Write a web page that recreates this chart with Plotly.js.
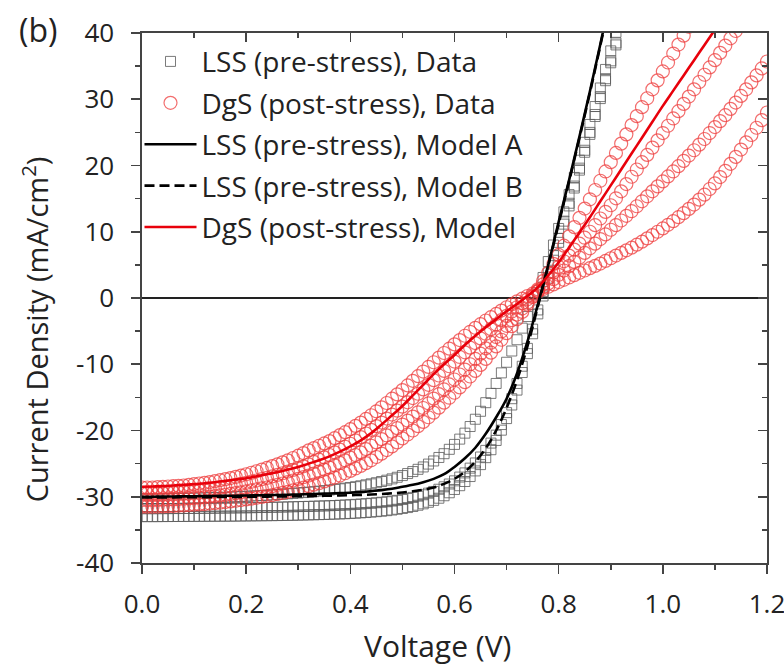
<!DOCTYPE html>
<html>
<head>
<meta charset="utf-8">
<script src="https://cdn.plot.ly/plotly-3.0.1.min.js"></script>
<style>html,body{margin:0;padding:0;background:#fff;overflow:hidden;}#chart{width:784px;height:668px;}</style>
</head>
<body>
<div id="chart"></div>
<script>
// Voltage grid for the measured data (V)
const voltage = [0,0.01,0.02,0.03,0.04,0.05,0.06,0.07,0.08,0.09,0.10,0.11,0.12,0.13,0.14,0.15,0.16,0.17,0.18,0.19,0.20,0.21,0.22,0.23,0.24,0.25,0.26,0.27,0.28,0.29,0.30,0.31,0.32,0.33,0.34,0.35,0.36,0.37,0.38,0.39,0.40,0.41,0.42,0.43,0.44,0.45,0.46,0.47,0.48,0.49,0.50,0.51,0.52,0.53,0.54,0.55,0.56,0.57,0.58,0.59,0.60,0.61,0.62,0.63,0.64,0.65,0.66,0.67,0.68,0.69,0.70,0.71,0.72,0.73,0.74,0.75,0.76,0.77,0.78,0.79,0.80,0.81,0.82,0.83,0.84,0.85,0.86,0.87,0.88,0.89,0.90,0.91,0.92,0.93,0.94,0.95,0.96,0.97,0.98,0.99,1.00,1.01,1.02,1.03,1.04,1.05,1.06,1.07,1.08,1.09,1.10,1.11,1.12,1.13,1.14,1.15,1.16,1.17,1.18,1.19,1.20];
// Voltage grid for the model curves (V)
const modelVoltage = [0,0.02,0.04,0.06,0.08,0.10,0.12,0.14,0.16,0.18,0.20,0.22,0.24,0.26,0.28,0.30,0.32,0.34,0.36,0.38,0.40,0.42,0.44,0.46,0.48,0.50,0.52,0.54,0.56,0.58,0.60,0.62,0.64,0.66,0.68,0.70,0.72,0.74,0.76,0.78,0.80,0.82,0.84,0.86,0.88,0.90,0.92,0.94,0.96,0.98,1.00,1.02,1.04,1.06,1.08,1.10];

// LSS (pre-stress) data, three cells (mA/cm2)
const lssData1 = [-30.3,-30.3,-30.3,-30.29,-30.28,-30.27,-30.26,-30.25,-30.24,-30.22,-30.2,-30.18,-30.16,-30.14,-30.12,-30.1,-30.07,-30.04,-30.0,-29.97,-29.93,-29.89,-29.85,-29.81,-29.76,-29.71,-29.66,-29.61,-29.55,-29.49,-29.43,-29.37,-29.3,-29.23,-29.15,-29.07,-28.98,-28.89,-28.8,-28.7,-28.6,-28.48,-28.35,-28.2,-28.05,-27.88,-27.7,-27.5,-27.3,-27.06,-26.8,-26.5,-26.2,-25.86,-25.5,-25.07,-24.6,-24.07,-23.5,-22.84,-22.1,-21.3,-20.4,-19.4,-18.3,-17.1,-15.8,-14.4,-12.9,-11.3,-9.7,-8.0,-6.3,-4.55,-2.8,-1.0,0.8,3.1,5.5,8.0,10.5,13.0,15.6,18.2,20.8,23.5,26.2,28.9,31.7,34.5,37.3,40.1,42.9];
const lssData2 = [-31.8,-31.8,-31.8,-31.8,-31.79,-31.79,-31.78,-31.78,-31.77,-31.77,-31.76,-31.75,-31.74,-31.73,-31.72,-31.71,-31.7,-31.69,-31.68,-31.67,-31.66,-31.65,-31.63,-31.62,-31.6,-31.59,-31.57,-31.55,-31.53,-31.51,-31.49,-31.47,-31.45,-31.43,-31.4,-31.38,-31.35,-31.32,-31.28,-31.24,-31.2,-31.15,-31.1,-31.04,-30.98,-30.91,-30.83,-30.75,-30.65,-30.54,-30.42,-30.27,-30.1,-29.91,-29.7,-29.46,-29.2,-28.87,-28.5,-28.08,-27.6,-27.03,-26.4,-25.68,-24.9,-24.0,-23.0,-21.9,-20.7,-19.1,-17.3,-15.2,-12.9,-10.3,-7.6,-4.7,-1.8,1.0,3.8,6.4,9.0,11.6,14.3,16.9,19.6,22.3,25.0,27.7,30.4,33.1,35.8,38.5,41.2];
const lssData3 = [-33.0,-33.0,-33.0,-33.0,-32.99,-32.99,-32.98,-32.98,-32.97,-32.97,-32.96,-32.96,-32.95,-32.95,-32.94,-32.94,-32.93,-32.93,-32.92,-32.91,-32.9,-32.89,-32.88,-32.87,-32.86,-32.85,-32.84,-32.83,-32.81,-32.8,-32.78,-32.76,-32.74,-32.72,-32.7,-32.68,-32.65,-32.62,-32.59,-32.56,-32.52,-32.48,-32.43,-32.38,-32.32,-32.25,-32.18,-32.1,-32.0,-31.89,-31.77,-31.63,-31.47,-31.28,-31.07,-30.83,-30.55,-30.22,-29.85,-29.4,-28.9,-28.33,-27.7,-26.95,-26.1,-25.15,-24.1,-22.9,-21.5,-19.95,-18.2,-16.15,-13.9,-11.25,-8.4,-5.4,-2.4,0.3,3.0,5.7,8.4,11.15,13.9,16.6,19.3,22.0,24.7,27.4,30.1,32.8,35.5,38.2,40.9];

// DgS (post-stress) data, four cells (mA/cm2)
const dgsData1 = [-31.5,-31.5,-31.5,-31.48,-31.45,-31.43,-31.4,-31.35,-31.3,-31.25,-31.2,-31.15,-31.1,-31.03,-30.95,-30.88,-30.8,-30.7,-30.6,-30.5,-30.4,-30.28,-30.15,-30.03,-29.9,-29.75,-29.6,-29.43,-29.25,-29.05,-28.85,-28.63,-28.4,-28.18,-27.95,-27.68,-27.4,-27.1,-26.8,-26.45,-26.1,-25.73,-25.35,-24.93,-24.5,-24.0,-23.5,-22.95,-22.4,-21.8,-21.2,-20.6,-20.0,-19.35,-18.7,-18.0,-17.3,-16.55,-15.8,-15.05,-14.3,-13.5,-12.7,-11.85,-11.0,-10.1,-9.2,-8.25,-7.3,-6.3,-5.3,-4.25,-3.2,-2.1,-1.0,0.15,1.3,2.55,3.8,5.15,6.5,7.9,9.3,10.7,12.1,13.5,14.9,16.3,17.7,19.1,20.5,21.9,23.3,24.7,26.1,27.45,28.8,30.15,31.5,32.85,34.2,35.55,36.9,38.25,39.6,40.95];
const dgsData2 = [-30.5,-30.5,-30.5,-30.48,-30.45,-30.43,-30.4,-30.35,-30.3,-30.25,-30.2,-30.13,-30.05,-29.98,-29.9,-29.8,-29.7,-29.58,-29.45,-29.33,-29.2,-29.05,-28.9,-28.75,-28.6,-28.4,-28.2,-28.0,-27.8,-27.55,-27.3,-27.05,-26.8,-26.5,-26.2,-25.9,-25.6,-25.25,-24.9,-24.5,-24.1,-23.7,-23.3,-22.8,-22.3,-21.8,-21.3,-20.75,-20.2,-19.65,-19.1,-18.5,-17.9,-17.25,-16.6,-15.9,-15.2,-14.5,-13.8,-13.05,-12.3,-11.55,-10.8,-10.0,-9.2,-8.4,-7.6,-6.75,-5.9,-5.05,-4.2,-3.35,-2.5,-1.6,-0.7,0.2,1.1,2.05,3.0,3.85,4.7,5.55,6.4,7.3,8.2,9.1,10.0,11.0,12.0,13.0,14.0,15.05,16.1,17.2,18.3,19.4,20.5,21.6,22.7,23.8,24.9,26.0,27.1,28.2,29.3,30.4,31.5,32.6,33.7,34.8,35.9,37.0,38.1,39.2,40.3];
const dgsData3 = [-29.5,-29.5,-29.5,-29.48,-29.45,-29.4,-29.35,-29.3,-29.25,-29.18,-29.1,-29.03,-28.95,-28.85,-28.75,-28.63,-28.5,-28.35,-28.2,-28.05,-27.9,-27.73,-27.55,-27.35,-27.15,-26.93,-26.7,-26.45,-26.2,-25.95,-25.7,-25.4,-25.1,-24.75,-24.4,-24.05,-23.7,-23.3,-22.9,-22.45,-22.0,-21.5,-21.0,-20.45,-19.9,-19.35,-18.8,-18.2,-17.6,-17.0,-16.4,-15.75,-15.1,-14.45,-13.8,-13.1,-12.4,-11.7,-11.0,-10.3,-9.6,-8.9,-8.2,-7.5,-6.8,-6.1,-5.4,-4.7,-4.0,-3.35,-2.7,-2.05,-1.4,-0.8,-0.2,0.4,1.0,1.6,2.2,2.85,3.5,4.15,4.8,5.45,6.1,6.8,7.5,8.2,8.9,9.6,10.3,11.0,11.7,12.4,13.1,13.85,14.6,15.35,16.1,16.85,17.6,18.35,19.1,19.9,20.7,21.5,22.3,23.15,24.0,24.9,25.8,26.7,27.6,28.55,29.5,30.5,31.5,32.55,33.6,34.65,35.7];
const dgsData4 = [-28.6,-28.6,-28.6,-28.55,-28.5,-28.45,-28.4,-28.35,-28.3,-28.2,-28.1,-28.0,-27.9,-27.78,-27.65,-27.5,-27.35,-27.18,-27.0,-26.8,-26.6,-26.38,-26.15,-25.9,-25.65,-25.38,-25.1,-24.8,-24.5,-24.15,-23.8,-23.4,-23.0,-22.65,-22.3,-21.95,-21.6,-21.15,-20.7,-20.25,-19.8,-19.3,-18.8,-18.25,-17.7,-17.1,-16.5,-15.85,-15.2,-14.55,-13.9,-13.2,-12.5,-11.8,-11.1,-10.4,-9.7,-9.0,-8.3,-7.65,-7.0,-6.35,-5.7,-5.1,-4.5,-3.95,-3.4,-2.9,-2.4,-1.9,-1.4,-0.95,-0.5,-0.1,0.3,0.65,1.0,1.35,1.7,2.05,2.4,2.75,3.1,3.45,3.8,4.15,4.5,4.85,5.2,5.6,6.0,6.4,6.8,7.2,7.6,8.05,8.5,9.0,9.5,10.0,10.5,11.05,11.6,12.2,12.8,13.45,14.1,14.85,15.6,16.45,17.3,18.25,19.2,20.25,21.3,22.4,23.5,24.6,25.7,26.85,28.0];

// Models (mA/cm2), on modelVoltage
const lssModelA = [-30.0,-30.0,-29.98,-29.96,-29.94,-29.92,-29.9,-29.88,-29.86,-29.84,-29.82,-29.79,-29.76,-29.73,-29.69,-29.65,-29.6,-29.55,-29.5,-29.45,-29.4,-29.3,-29.15,-29.0,-28.8,-28.5,-28.2,-27.8,-27.3,-26.6,-25.5,-24.2,-22.6,-20.5,-18.0,-15.2,-11.4,-6.6,-1.0,5.0,11.5,17.8,24.4,31.2,38.3,45.6];
const lssModelB = [-30.1,-30.1,-30.1,-30.09,-30.08,-30.07,-30.06,-30.05,-30.04,-30.03,-30.02,-30.0,-29.98,-29.96,-29.94,-29.92,-29.9,-29.87,-29.84,-29.81,-29.77,-29.72,-29.66,-29.58,-29.48,-29.35,-29.18,-28.95,-28.6,-28.05,-27.3,-26.2,-24.7,-22.7,-20.0,-16.6,-12.4,-7.3,-1.3,4.9,11.2,17.6,24.2,31.0,38.1,45.4];
const dgsModel = [-28.5,-28.45,-28.4,-28.3,-28.2,-28.1,-27.95,-27.8,-27.6,-27.4,-27.2,-26.9,-26.6,-26.3,-25.9,-25.5,-25.0,-24.5,-23.9,-23.2,-22.4,-21.5,-20.4,-19.1,-17.7,-16.3,-14.7,-13.1,-11.5,-10.0,-8.6,-7.1,-5.7,-4.4,-3.2,-2.0,-0.9,0.3,1.6,3.4,5.4,7.6,9.9,12.2,14.6,17.0,19.4,21.8,24.2,26.6,29.0,31.3,33.6,35.9,38.2,40.5];

const xTickVals = [0,0.2,0.4,0.6,0.8,1.0,1.2];
const xTickText = ["0.0","0.2","0.4","0.6","0.8","1.0","1.2"];
const yTickVals = [-40,-30,-20,-10,0,10,20,30,40];
const yTickText = ["-40","-30","-20","-10","0","10","20","30","40"];

const legendNames = ["LSS (pre-stress), Data","DgS (post-stress), Data","LSS (pre-stress), Model A","LSS (pre-stress), Model B","DgS (post-stress), Model"];
const xTitle = 'Voltage (V)';
const yTitle = 'Current Density (mA/cm<sup>2</sup>)';
const panelLabel = '(b)';

const FONT = "'Open Sans', 'Noto Sans', sans-serif";
const sqMarker = {symbol:'square-open', size:10, color:'rgba(90,90,90,0.8)', line:{width:1}};
const ciMarker = {symbol:'circle-open', size:13, color:'rgba(238,60,60,0.75)', line:{width:1.2}};

function xs(grid, ys){ return grid.slice(0, ys.length); }

const traces = [];
[lssData1, lssData2, lssData3].forEach((ys,i)=>{
  traces.push({x:xs(voltage,ys), y:ys, type:'scatter', mode:'markers', marker:sqMarker,
    name:legendNames[0], legendgroup:'g1', showlegend:i===0, legendrank:1, hoverinfo:'skip', cliponaxis:true});
});
[dgsData1, dgsData2, dgsData3, dgsData4].forEach((ys,i)=>{
  traces.push({x:xs(voltage,ys), y:ys, type:'scatter', mode:'markers', marker:ciMarker,
    name:legendNames[1], legendgroup:'g2', showlegend:i===0, legendrank:2, hoverinfo:'skip', cliponaxis:true});
});
traces.push({x:xs(modelVoltage,lssModelB), y:lssModelB, type:'scatter', mode:'lines', line:{color:'#000', width:2.6, dash:'10px,5px', shape:'spline'}, name:legendNames[3], legendgroup:'g4', legendrank:4, hoverinfo:'skip'});
traces.push({x:xs(modelVoltage,lssModelA), y:lssModelA, type:'scatter', mode:'lines', line:{color:'#000', width:2.6, shape:'spline'}, name:legendNames[2], legendgroup:'g3', legendrank:3, hoverinfo:'skip'});
traces.push({x:xs(modelVoltage,dgsModel), y:dgsModel, type:'scatter', mode:'lines', line:{color:'#e8000b', width:2.6, shape:'spline'}, name:legendNames[4], legendgroup:'g5', legendrank:5, hoverinfo:'skip'});
traces.push({x:[null], y:[null], xaxis:'x2', yaxis:'y2', type:'scatter', mode:'markers', showlegend:false, hoverinfo:'skip'});

const axisCommon = {showgrid:false, linecolor:'#444', linewidth:1.6, tickcolor:'#444', tickwidth:1.6, ticklen:9, fixedrange:true};

const layout = {
  width:784, height:668,
  margin:{l:142, r:17, t:33, b:105},
  paper_bgcolor:'#fff', plot_bgcolor:'#fff',
  font:{family:FONT, color:'#222', size:26},
  showlegend:true,
  legend:{x:-0.004, y:0.993, xanchor:'left', yanchor:'top', bgcolor:'rgba(0,0,0,0)', font:{size:28, color:'#222'},
    traceorder:'grouped', tracegroupgap:2, itemwidth:52},
  xaxis:Object.assign({}, axisCommon, {
    range:[0,1.2], tickvals:xTickVals, ticktext:xTickText, ticks:'outside', ticklabeloverflow:'allow',
    minor:{dtick:0.1, ticks:'outside', ticklen:5, tickcolor:'#444', tickwidth:1.6},
    zeroline:false, tickfont:{size:26}, ticklabelstandoff:8
  }),
  yaxis:Object.assign({}, axisCommon, {
    range:[-40,40], tickvals:yTickVals, ticktext:yTickText, ticks:'outside',
    minor:{dtick:5, ticks:'outside', ticklen:5, tickcolor:'#444', tickwidth:1.6},
    zeroline:true, zerolinecolor:'#222', zerolinewidth:1.3, tickfont:{size:26}, ticklabelstandoff:12
  }),
  xaxis2:Object.assign({}, axisCommon, {
    overlaying:'x', side:'top', anchor:'y2', range:[0,1.2], tickvals:xTickVals, ticks:'inside', showticklabels:false,
    minor:{dtick:0.1, ticks:'inside', ticklen:5, tickcolor:'#444', tickwidth:1.6}, zeroline:false
  }),
  yaxis2:Object.assign({}, axisCommon, {
    overlaying:'y', side:'right', anchor:'x2', range:[-40,40], tickvals:yTickVals, ticks:'inside', showticklabels:false,
    minor:{dtick:5, ticks:'inside', ticklen:5, tickcolor:'#444', tickwidth:1.6}, zeroline:false
  }),
  annotations:[
    {text:panelLabel, xref:'paper', yref:'paper', x:-0.200, y:1.006, xanchor:'left', yanchor:'middle', showarrow:false, font:{size:32, color:'#222'}},
    {text:xTitle, xref:'paper', yref:'paper', x:0.472, y:-0.155, xanchor:'center', yanchor:'middle', showarrow:false, font:{size:30, color:'#222'}},
    {text:yTitle, xref:'paper', yref:'paper', x:-0.172, y:0.44, xanchor:'center', yanchor:'middle', textangle:-90, showarrow:false, font:{size:29, color:'#222'}}
  ]
};

Plotly.newPlot('chart', traces, layout, {displayModeBar:false, staticPlot:true});
</script>
</body>
</html>
